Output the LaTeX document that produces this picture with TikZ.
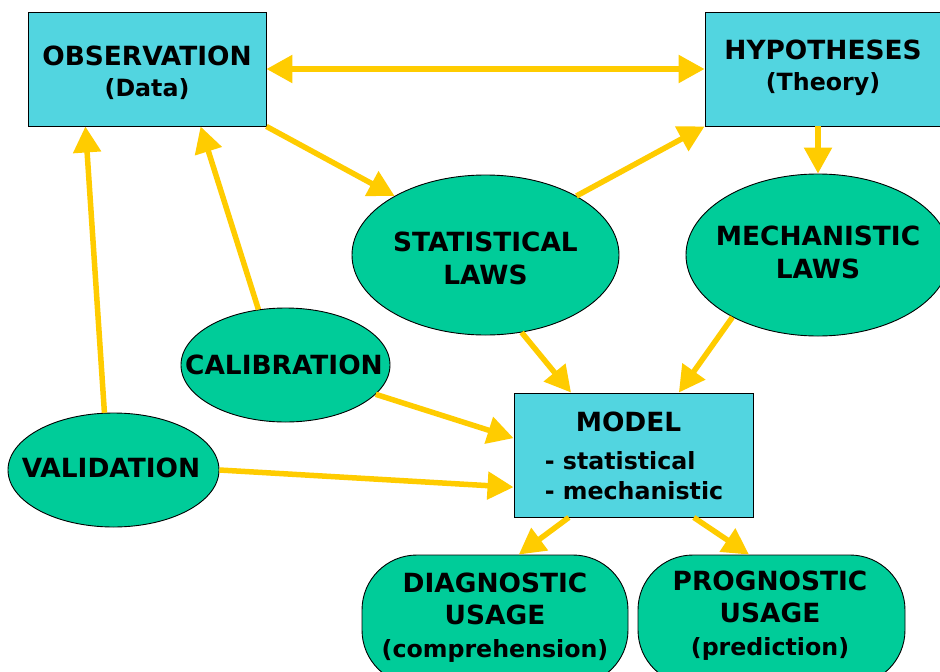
\documentclass[tikz,border=0pt]{standalone}
\usepackage{fontspec}
\setmainfont{DejaVu Sans}
\usetikzlibrary{shapes.geometric,arrows.meta}
\definecolor{boxc}{RGB}{82,213,224}
\definecolor{ellc}{RGB}{0,204,153}
\definecolor{arrc}{RGB}{255,204,0}
\newcommand\mysubsz{\fontsize{23.7}{31}\selectfont}
\tikzset{
  bigtext/.style={font=\bfseries\fontsize{26.4}{31}\selectfont, align=center, inner sep=0pt},
  usagetext/.style={font=\bfseries\fontsize{26.4}{32.5}\selectfont, align=center, inner sep=0pt},
  databox/.style={draw=black, line width=0.9pt, fill=boxc, rectangle, minimum width=238pt, minimum height=114pt, inner sep=0pt},
  lawell/.style={draw=black, line width=0.9pt, fill=ellc, ellipse, inner sep=0pt},
  usagebox/.style={draw=black, line width=0.9pt, fill=ellc, rectangle, rounded corners=55pt, minimum height=130pt, inner sep=0pt},
  flow/.style={draw=arrc, line width=5.5pt, -{Triangle[length=26pt,width=27pt]}},
  flowboth/.style={draw=arrc, line width=5.5pt, {Triangle[length=26pt,width=27pt]}-{Triangle[length=26pt,width=27pt]}}
}
\begin{document}
\begin{tikzpicture}[x=1pt,y=-1pt]
\clip (0,0) rectangle (940,672);
\fill[white] (0,0) rectangle (940,672);
% boxes
\node[databox] (obs) at (147,69) {};
\node[bigtext] (obstext) at (147,73) {OBSERVATION\\{\mysubsz (Data)}};
\node[databox] (hyp) at (824,69) {};
\node[bigtext] (hyptext) at (823,68) {HYPOTHESES\\{\mysubsz (Theory)}};
\node[databox, minimum width=239pt, minimum height=124pt] (model) at (633.5,455) {};
\node[inner sep=0pt, font=\bfseries\fontsize{23.7}{30}\selectfont] (modeltext) at (634,459)
  {\begin{tabular}{@{}l@{}}\multicolumn{1}{@{}c@{\hspace{11pt}}}{\fontsize{26.4}{30}\selectfont MODEL}\\[8pt] - statistical\\ - mechanistic\end{tabular}};
% ellipses
\node[lawell, minimum width=267pt, minimum height=160pt] (stat) at (485.5,255) {};
\node[bigtext, font=\bfseries\fontsize{26.4}{33}\selectfont] (stattext) at (485.5,258.5) {STATISTICAL\\LAWS};
\node[lawell, minimum width=264pt, minimum height=162pt] (mech) at (818,255) {};
\node[bigtext, font=\bfseries\fontsize{26.4}{33}\selectfont] (mechtext) at (818,252) {MECHANISTIC\\LAWS};
\node[lawell, minimum width=209pt, minimum height=114pt] (cal) at (285.5,365) {};
\node[bigtext] (caltext) at (284,364.5) {CALIBRATION};
\node[lawell, minimum width=211pt, minimum height=114pt] (val) at (113.5,470) {};
\node[bigtext] (valtext) at (111,468) {VALIDATION};
% usage
\node[usagebox, minimum width=266pt] (diag) at (495,620) {};
\node[usagetext] (diagtext) at (495,617.5) {DIAGNOSTIC\\USAGE\\{\fontsize{23.7}{32.5}\selectfont (comprehension)}};
\node[usagebox, minimum width=267pt] (prog) at (771.5,620) {};
\node[usagetext] (progtext) at (770,615.5) {PROGNOSTIC\\USAGE\\{\fontsize{23.7}{32.5}\selectfont (prediction)}};
% arrows
\draw[flowboth] (obs.east) -- (hyp.west);
\draw[flow] (obs.south east) -- (stat.147);
\draw[flow] (stat.33) -- (hyp.south west);
\draw[flow] (mech.north |- hyp.south) -- (mech.north);
\draw[flow] (stat.295.7) -- (model.135.7);
\draw[flow] (mech.216.2) -- (model.54.3);
\draw[flow] (cal.116.6) -- (obs.-47.1);
\draw[flow] (val.99.5) -- (obs.223.5);
\draw[flow] (cal.-18) -- (model.172.85);
\draw[flow] (val.east) -- (model.195.9);
\draw[flow] (model.224.8) -- (diag.70.5);
\draw[flow] (model.314.8) -- (prog.109.5);
\end{tikzpicture}
\end{document}
